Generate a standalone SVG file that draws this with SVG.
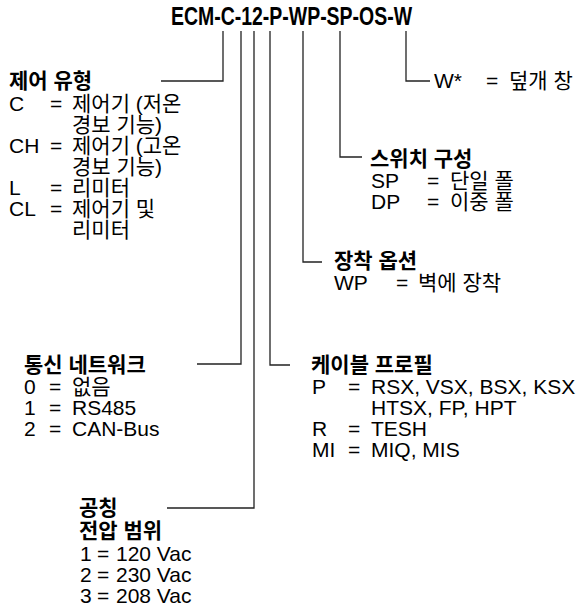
<svg xmlns="http://www.w3.org/2000/svg" width="579" height="612" viewBox="0 0 579 612">
<style>
text{font-family:"Liberation Sans","Noto Sans CJK KR",sans-serif;font-size:21px;fill:#000}
.h{font-weight:bold}
.t{font-weight:bold;font-size:25px}
.ln{fill:none;stroke:#222;stroke-width:1.3}
</style>
<rect width="579" height="612" fill="#fff"/>
<g id="title"><text class="t" x="171" y="25" textLength="241" lengthAdjust="spacingAndGlyphs">ECM-C-12-P-WP-SP-OS-W</text></g>
<g id="connectors">
<polyline class="ln" points="223,31 223,81 161,81"/>
<polyline class="ln" points="241,31 241,364 197,364"/>
<polyline class="ln" points="254,31 254,508 167,508"/>
<polyline class="ln" points="270,31 270,365 290,365"/>
<polyline class="ln" points="303,31 303,262 322,262"/>
<polyline class="ln" points="340,31 340,157 362,157"/>
<polyline class="ln" points="406,31 406,81 430,81"/>
</g>
<g id="control-type">
<text class="h" x="9" y="88">제어 유형</text>
<text x="9" y="111">C</text><text x="50" y="111">=</text><text x="72" y="111">제어기 (저온</text>
<text x="72" y="132">경보 기능)</text>
<text x="9" y="153">CH</text><text x="50" y="153">=</text><text x="72" y="153">제어기 (고온</text>
<text x="72" y="174">경보 기능)</text>
<text x="9" y="195">L</text><text x="50" y="195">=</text><text x="72" y="195">리미터</text>
<text x="9" y="216">CL</text><text x="50" y="216">=</text><text x="72" y="216">제어기 및</text>
<text x="72" y="237">리미터</text>
</g>
<g id="cover">
<text x="434" y="88">W*</text><text x="486" y="88">=</text><text x="509" y="88">덮개 창</text>
</g>
<g id="switch">
<text class="h" x="370" y="166">스위치 구성</text>
<text x="371" y="188">SP</text><text x="427" y="188">=</text><text x="450" y="188">단일 폴</text>
<text x="371" y="209">DP</text><text x="427" y="209">=</text><text x="450" y="209">이중 폴</text>
</g>
<g id="mounting">
<text class="h" x="334" y="268">장착 옵션</text>
<text x="334" y="290">WP</text><text x="396" y="290">=</text><text x="418" y="290">벽에 장착</text>
</g>
<g id="network">
<text class="h" x="24" y="372">통신 네트워크</text>
<text x="24" y="394">0</text><text x="49" y="394">=</text><text x="72" y="394">없음</text>
<text x="24" y="415">1</text><text x="49" y="415">=</text><text x="72" y="415">RS485</text>
<text x="24" y="436">2</text><text x="49" y="436">=</text><text x="72" y="436">CAN-Bus</text>
</g>
<g id="cable">
<text class="h" x="311" y="372">케이블 프로필</text>
<text x="312" y="394">P</text><text x="348" y="394">=</text><text x="371" y="394">RSX, VSX, BSX, KSX</text>
<text x="371" y="415">HTSX, FP, HPT</text>
<text x="312" y="436">R</text><text x="348" y="436">=</text><text x="371" y="436">TESH</text>
<text x="312" y="457">MI</text><text x="348" y="457">=</text><text x="371" y="457">MIQ, MIS</text>
</g>
<g id="voltage">
<text class="h" x="79" y="515">공칭</text>
<text class="h" x="79" y="538">전압 범위</text>
<text x="80" y="561">1</text><text x="97" y="561">=</text><text x="116" y="561">120 Vac</text>
<text x="80" y="582">2</text><text x="97" y="582">=</text><text x="116" y="582">230 Vac</text>
<text x="80" y="603">3</text><text x="97" y="603">=</text><text x="116" y="603">208 Vac</text>
</g>
</svg>
